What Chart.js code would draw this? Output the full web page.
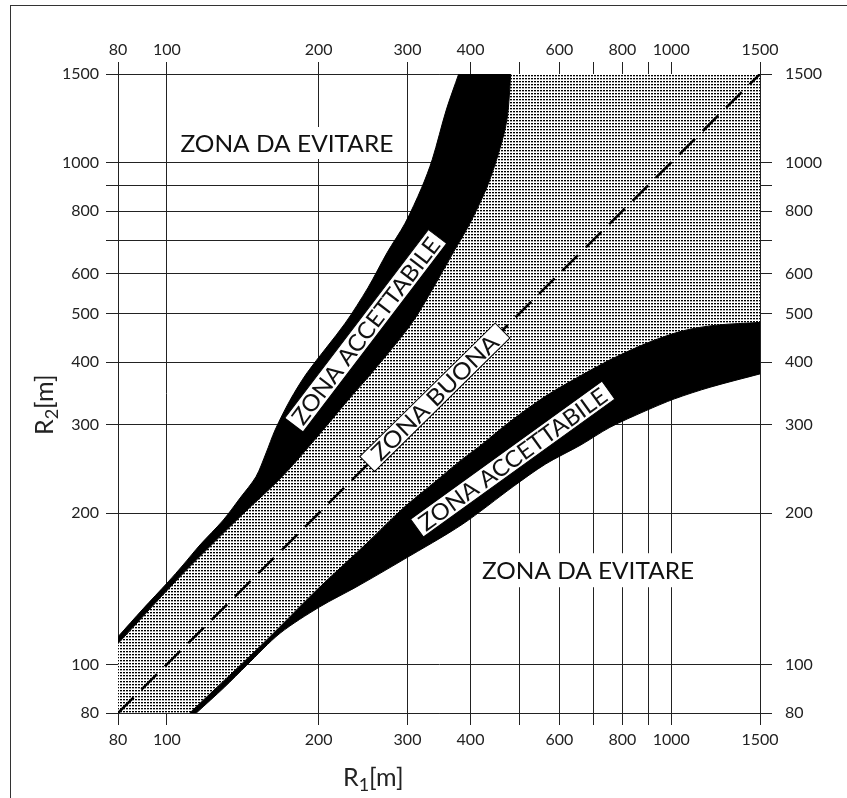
<!DOCTYPE html>
<html lang="it">
<head>
<meta charset="UTF-8">
<title>Raggi consecutivi R1 / R2</title>
<script src="https://cdn.jsdelivr.net/npm/chart.js@4.4.1/dist/chart.umd.min.js"></script>
<style>
  html, body { margin: 0; padding: 0; background: #fff; }
  canvas { display: block; }
</style>
</head>
<body>
<canvas id="raggi" width="847" height="798"></canvas>
<script>
// assi logaritmici, valori in metri
const xTicks = [80, 100, 200, 300, 400, 500, 600, 700, 800, 900, 1000, 1500];
const xLabels = [80, 100, 200, 300, 400, 600, 800, 1000, 1500];
const yTicks = [80, 100, 200, 300, 400, 500, 600, 700, 800, 900, 1000, 1500];
const yLabels = [80, 100, 200, 300, 400, 500, 600, 800, 1000, 1500];

// fascia "zona accettabile" in alto: bordo verso l'alto e bordo verso la zona buona  [R1, R2]
const upperBandTop = [[80, 113.5], [89.7, 129], [100.6, 146], [107.7, 157.8], [116.3, 172.9], [129.4, 193.9],
  [139.7, 214.5], [150.2, 236.5], [157.3, 263.7], [163.9, 293], [175.5, 336], [189.7, 381], [225.6, 478],
  [250.5, 563], [273.6, 662], [296.6, 756], [320, 890], [336, 1014], [358, 1271], [379, 1500]];
const upperBandBottom = [[80, 110], [103.8, 146], [114.5, 161.5], [140.8, 198.4], [169.2, 236.5], [204, 293],
  [228.6, 336], [255, 381], [305.8, 478], [337.6, 563], [369.9, 662], [399, 756], [430.7, 890], [450.8, 1014],
  [468, 1160], [475, 1271], [480.6, 1500]];

// fascia "zona accettabile" in basso
const lowerBandTop = [[111, 80], [146, 103.8], [161.5, 114.5], [198.4, 140.8], [249, 174.2], [293, 204],
  [336, 228.6], [381, 254], [417, 272], [478, 304], [563, 342], [665, 377], [767, 407], [908, 439],
  [1057, 462], [1230, 474], [1500, 480]];
const lowerBandBottom = [[114.4, 80], [130, 90], [144, 99.6], [167.6, 115.3], [201, 130.2], [238, 142.8],
  [294, 161.5], [385, 190], [486, 226], [563, 250.5], [662, 273.6], [756, 296.6], [890, 320], [1015, 338],
  [1194, 356.5], [1500, 379]];

// bisettrice R1 = R2
const diagonal = [[80, 80], [1500, 1500]];
// angolo in alto a destra e in basso a sinistra della zona buona
const goodTopRight = [[1500, 1500]];
const goodBottomLeft = [[80, 80]];

const toXY = pts => pts.map(([x, y]) => ({ x: x, y: y }));

// unisce i bordi in un contorno chiuso; gli estremi ripetuti tengono gli spigoli vivi
function outline(...edges) {
  const out = [];
  edges.forEach(e => {
    out.push(e[0]);
    e.forEach(p => out.push(p));
    out.push(e[e.length - 1]);
  });
  return toXY(out);
}
const rev = a => a.slice().reverse();

const canvas = document.getElementById('raggi');
const ctx = canvas.getContext('2d');

// retino a puntini della zona buona
function makeStipple() {
  const t = document.createElement('canvas');
  t.width = 3; t.height = 3;
  const c = t.getContext('2d');
  c.fillStyle = '#fff';
  c.fillRect(0, 0, 3, 3);
  c.fillStyle = '#000';
  c.fillRect(0, 0, 2, 1);
  c.fillStyle = '#aaa';
  c.fillRect(0, 1, 2, 1);
  return ctx.createPattern(t, 'repeat');
}

const FONT = "Lato, 'DejaVu Sans', sans-serif";
Chart.defaults.font.family = FONT;

// etichette delle zone, ancorate a valori [R1, R2]
const zoneLabels = [
  { text: 'ZONA DA EVITARE', at: [173, 1093], angle: 0, textW: 213, boxW: 224, boxH: 32, size: 24, outline: false },
  { text: 'ZONA DA EVITARE', at: [684, 154], angle: 0, textW: 212, boxW: 226, boxH: 34, size: 24, outline: false },
  { text: 'ZONA ACCETTABILE', at: [247.9, 461.8], angle: -52.7, textW: 228, boxW: 237, boxH: 23, size: 23, outline: true },
  { text: 'ZONA BUONA', at: [339.9, 340.4], angle: -44.6, textW: 168, boxW: 190, boxH: 21, size: 23, outline: true },
  { text: 'ZONA ACCETTABILE', at: [485, 256.4], angle: -35.8, textW: 226, boxW: 236, boxH: 22, size: 23, outline: true }
];

function drawBoxedText(c, lab, cx, cy) {
  c.save();
  c.translate(cx, cy);
  c.rotate(lab.angle * Math.PI / 180);
  c.fillStyle = '#fff';
  c.fillRect(-lab.boxW / 2, -lab.boxH / 2, lab.boxW, lab.boxH);
  if (lab.outline) {
    c.strokeStyle = '#000';
    c.lineWidth = 1;
    c.strokeRect(-lab.boxW / 2, -lab.boxH / 2, lab.boxW, lab.boxH);
  }
  c.font = lab.size + 'px ' + FONT;
  const w = c.measureText(lab.text).width;
  c.scale(lab.textW / w, 1);
  c.fillStyle = '#111';
  c.textAlign = 'center';
  c.textBaseline = 'alphabetic';
  c.fillText(lab.text, 0, lab.size * 0.36);
  c.restore();
}

// R con pedice e [m]
function drawRadiusTitle(c, sub, x, y) {
  c.fillStyle = '#222';
  c.textAlign = 'left';
  c.textBaseline = 'alphabetic';
  c.font = '25px ' + FONT;
  c.fillText('R', x, y);
  x += c.measureText('R').width;
  c.font = '18px ' + FONT;
  c.fillText(sub, x, y + 5);
  x += c.measureText(sub).width;
  c.font = '25px ' + FONT;
  c.fillText('[m]', x, y);
}

const drawings = {
  id: 'drawings',
  beforeDraw(chart) {
    const c = chart.ctx;
    c.save();
    c.fillStyle = '#fff';
    c.fillRect(0, 0, chart.width, chart.height);
    c.strokeStyle = '#333';
    c.lineWidth = 1;
    c.strokeRect(10.5, 5.5, 1000, 1000);
    c.restore();
  },
  afterDatasetsDraw(chart) {
    const c = chart.ctx;
    const xs = chart.scales.x, ys = chart.scales.y;
    zoneLabels.forEach(lab => {
      drawBoxedText(c, lab, xs.getPixelForValue(lab.at[0]), ys.getPixelForValue(lab.at[1]));
    });
  },
  afterDraw(chart) {
    const c = chart.ctx;
    c.save();
    drawRadiusTitle(c, '1', 343, 786);
    c.translate(53, 435);
    c.rotate(-Math.PI / 2);
    drawRadiusTitle(c, '2', 0, 0);
    c.restore();
  }
};

function logAxis(position, ticksList, labelsList, onArea, size, pad) {
  const horizontal = position === 'top' || position === 'bottom';
  return {
    type: 'logarithmic',
    position: position,
    min: 80,
    max: 1500,
    afterBuildTicks: s => { s.ticks = ticksList.map(v => ({ value: v })); },
    afterFit: s => { if (horizontal) s.height = size; else s.width = size; },
    grid: { color: '#222', lineWidth: 1, tickLength: 12, drawOnChartArea: onArea, drawTicks: true },
    border: { display: true, color: '#222', width: 1 },
    ticks: {
      autoSkip: false,
      maxRotation: 0,
      padding: pad,
      color: '#222',
      font: { family: FONT, size: 16 },
      callback: v => labelsList.includes(v) ? String(v) : ''
    }
  };
}

new Chart(ctx, {
  type: 'scatter',
  data: {
    datasets: [
      {
        label: 'R1 = R2',
        data: toXY(diagonal),
        showLine: true,
        borderColor: '#000',
        borderWidth: 2.5,
        borderDash: [22, 11],
        pointRadius: 0,
        fill: false
      },
      {
        label: 'zona accettabile (alto)',
        data: outline(upperBandTop, rev(upperBandBottom)),
        showLine: true,
        borderColor: '#000',
        borderWidth: 1,
        backgroundColor: '#000',
        pointRadius: 0,
        tension: 0.3,
        fill: 'shape'
      },
      {
        label: 'zona accettabile (basso)',
        data: outline(lowerBandTop, rev(lowerBandBottom)),
        showLine: true,
        borderColor: '#000',
        borderWidth: 1,
        backgroundColor: '#000',
        pointRadius: 0,
        tension: 0.3,
        fill: 'shape'
      },
      {
        label: 'zona buona',
        data: outline(upperBandBottom, goodTopRight, rev(lowerBandTop), goodBottomLeft),
        showLine: true,
        borderColor: 'rgba(0,0,0,0)',
        borderWidth: 1,
        backgroundColor: makeStipple(),
        pointRadius: 0,
        tension: 0.3,
        fill: 'shape'
      }
    ]
  },
  options: {
    responsive: false,
    animation: false,
    devicePixelRatio: 1,
    events: [],
    layout: { padding: 0 },
    plugins: {
      legend: { display: false },
      tooltip: { enabled: false }
    },
    scales: {
      x: logAxis('bottom', xTicks, xLabels, true, 85, 5),
      x2: logAxis('top', xTicks, xLabels, false, 74, 3),
      y: logAxis('left', yTicks, yLabels, true, 118, 7),
      y2: logAxis('right', yTicks, yLabels, false, 87, 13)
    }
  },
  plugins: [drawings]
});
</script>
</body>
</html>
